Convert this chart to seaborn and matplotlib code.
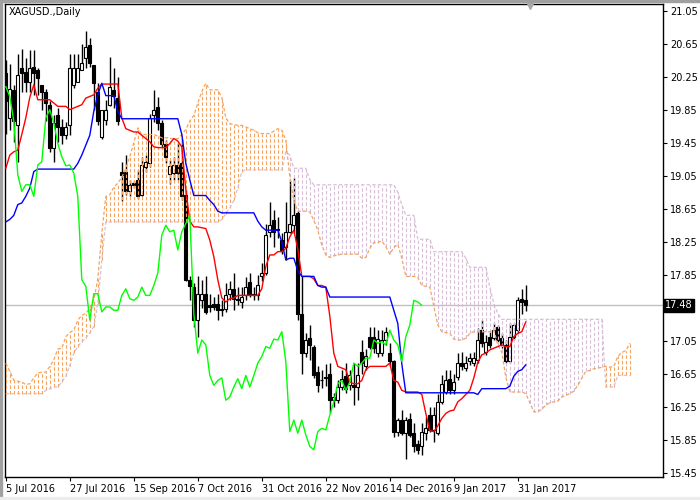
import numpy as np
import matplotlib
matplotlib.use("Agg")
import matplotlib.pyplot as plt
from matplotlib.patches import Rectangle
import seaborn as sns

sns.set_style("white")
plt.rcParams['font.family'] = ['DejaVu Sans']
plt.rcParams['lines.scale_dashes'] = False

# --- daily candles, XAGUSD (bar 0 = 5 Jul 2016) ---
opens = [20.30, 19.75, 20.09, 19.67, 20.36, 20.31, 20.19, 20.37, 20.33, 20.15,
         20.07, 19.91, 19.38, 19.79, 19.64, 19.54, 19.67, 20.15, 20.19, 20.33,
         20.47, 20.63, 20.39, 20.07, 19.52, 19.73, 19.91, 20.09, 19.99, 19.10,
         19.10, 18.86, 18.96, 19.00, 18.82, 19.16, 19.20, 19.78, 19.88, 19.69,
         19.44, 19.07, 19.08, 19.18, 19.20, 18.82, 17.79, 17.70, 17.30, 17.54,
         17.62, 17.48, 17.50, 17.50, 17.44, 17.44, 17.62, 17.68, 17.56, 17.52,
         17.60, 17.76, 17.62, 17.60, 17.83, 17.87, 18.37, 18.51, 18.41, 18.27,
         18.19, 18.37, 18.45, 18.60, 17.38, 16.90, 17.08, 16.98, 16.67, 16.58,
         16.61, 16.65, 16.33, 16.33, 16.49, 16.62, 16.51, 16.51, 16.49, 16.92,
         16.74, 17.10, 17.10, 16.90, 16.90, 17.06, 16.90, 16.80, 15.95, 16.09,
         15.93, 16.10, 15.93, 15.80, 15.77, 15.93, 16.15, 15.97, 15.93, 16.31,
         16.43, 16.59, 16.45, 16.61, 16.78, 16.72, 16.80, 16.78, 16.82, 17.18,
         16.92, 17.10, 17.08, 17.22, 17.08, 17.00, 16.80, 17.10, 17.18, 17.56,
         17.54]
highs = [20.45, 20.40, 20.15, 20.53, 20.59, 20.47, 20.57, 20.57, 20.36, 20.15,
         20.10, 19.95, 19.79, 19.87, 19.74, 19.70, 20.53, 20.53, 20.53, 20.65,
         20.80, 20.72, 20.39, 20.17, 19.85, 19.97, 20.49, 20.35, 20.25, 19.22,
         19.30, 19.00, 18.99, 19.12, 19.28, 19.30, 19.80, 20.09, 20.00, 19.72,
         19.48, 19.24, 19.28, 19.45, 19.50, 18.88, 17.83, 17.75, 17.83, 17.79,
         17.83, 17.62, 17.58, 17.62, 17.55, 17.75, 17.78, 17.87, 17.70, 17.70,
         17.82, 17.87, 17.70, 17.85, 17.99, 18.47, 18.73, 18.63, 18.55, 18.35,
         18.73, 19.00, 19.02, 18.62, 17.83, 17.15, 17.24, 17.00, 16.75, 16.70,
         16.77, 16.78, 16.42, 16.58, 16.70, 16.78, 16.70, 16.78, 16.78, 17.06,
         16.95, 17.22, 17.22, 17.18, 17.18, 17.22, 17.02, 16.82, 16.12, 16.21,
         16.13, 16.17, 16.05, 15.85, 16.05, 16.13, 16.25, 16.25, 16.41, 16.63,
         16.70, 16.70, 16.65, 16.90, 16.92, 16.86, 16.90, 16.92, 17.20, 17.30,
         17.12, 17.16, 17.26, 17.24, 17.14, 17.06, 17.26, 17.26, 17.58, 17.68,
         17.72]
lows = [19.55, 19.60, 19.46, 19.22, 20.07, 20.07, 20.07, 20.03, 20.03, 19.85,
        19.71, 19.34, 19.22, 19.46, 19.44, 19.50, 19.54, 20.11, 20.19, 20.33,
        20.35, 20.37, 19.85, 19.67, 19.50, 19.67, 19.89, 19.87, 19.67, 18.74,
        18.82, 18.80, 18.90, 18.77, 18.80, 19.10, 19.15, 19.70, 19.60, 19.40,
        19.20, 18.95, 19.00, 19.00, 18.76, 17.77, 17.54, 17.22, 17.10, 17.45,
        17.38, 17.40, 17.42, 17.30, 17.35, 17.40, 17.55, 17.42, 17.48, 17.45,
        17.55, 17.58, 17.55, 17.55, 17.78, 17.85, 18.31, 18.19, 18.30, 18.10,
        18.03, 18.35, 18.35, 17.30, 16.65, 16.85, 16.82, 16.60, 16.43, 16.48,
        16.50, 16.17, 16.25, 16.30, 16.45, 16.42, 16.45, 16.27, 16.33, 16.65,
        16.70, 16.95, 16.90, 16.85, 16.86, 17.00, 16.75, 15.89, 15.90, 15.91,
        15.62, 15.88, 15.70, 15.68, 15.67, 15.85, 15.95, 15.83, 15.91, 16.29,
        16.41, 16.40, 16.40, 16.57, 16.70, 16.68, 16.76, 16.74, 16.78, 16.98,
        16.88, 16.96, 17.06, 17.04, 16.96, 16.78, 16.78, 17.06, 17.14, 17.38,
        17.41]
closes = [19.95, 20.10, 19.71, 20.27, 20.29, 20.19, 20.36, 20.29, 20.23, 20.07,
          19.93, 19.38, 19.69, 19.64, 19.54, 19.64, 20.35, 20.35, 20.35, 20.41,
          20.61, 20.41, 20.17, 19.71, 19.85, 19.85, 20.13, 20.01, 19.71, 19.06,
          18.86, 18.94, 18.94, 18.80, 19.18, 19.22, 19.75, 19.85, 19.69, 19.44,
          19.28, 19.17, 19.18, 19.08, 18.80, 17.79, 17.71, 17.30, 17.62, 17.62,
          17.40, 17.46, 17.46, 17.42, 17.42, 17.60, 17.68, 17.56, 17.54, 17.58,
          17.70, 17.60, 17.60, 17.72, 17.87, 18.33, 18.45, 18.37, 18.39, 18.15,
          18.37, 18.47, 18.57, 17.38, 16.90, 17.06, 17.00, 16.63, 16.51, 16.57,
          16.60, 16.33, 16.37, 16.49, 16.59, 16.47, 16.63, 16.49, 16.63, 16.78,
          16.86, 16.98, 16.96, 17.07, 17.06, 17.16, 16.80, 15.95, 16.09, 15.93,
          16.09, 15.91, 15.77, 15.73, 15.95, 15.99, 15.97, 16.15, 16.31, 16.53,
          16.57, 16.45, 16.55, 16.78, 16.74, 16.78, 16.84, 16.84, 17.06, 17.02,
          17.04, 17.00, 17.18, 17.06, 17.00, 16.80, 17.10, 17.24, 17.54, 17.52,
          17.48]

# --- Ichimoku lines ---
tenkan = [19.14, 19.30, 19.34, 19.36, 19.55, 19.75, 20.00, 20.15, 19.97, 19.97,
          19.97, 19.97, 19.93, 19.89, 19.89, 19.89, 19.85, 19.87, 19.89, 19.91,
          19.99, 20.01, 20.03, 20.11, 20.16, 20.16, 20.16, 20.16, 20.16, 19.75,
          19.62, 19.60, 19.58, 19.58, 19.54, 19.50, 19.46, 19.40, 19.39, 19.39,
          19.39, 19.44, 19.50, 19.47, 19.40, 18.88, 18.50, 18.43, 18.43, 18.42,
          18.41, 18.27, 18.07, 17.79, 17.57, 17.52, 17.56, 17.57, 17.60, 17.60,
          17.60, 17.60, 17.60, 17.60, 17.68, 17.95, 18.09, 18.09, 18.13, 18.13,
          18.17, 18.31, 18.39, 18.16, 17.83, 17.83, 17.83, 17.80, 17.72, 17.72,
          17.70, 17.35, 16.90, 16.74, 16.72, 16.70, 16.55, 16.53, 16.53, 16.57,
          16.70, 16.74, 16.74, 16.74, 16.74, 16.74, 16.78, 16.57, 16.55, 16.45,
          16.43, 16.43, 16.43, 16.43, 16.40, 16.17, 15.96, 15.95, 16.02, 16.11,
          16.17, 16.20, 16.21, 16.31, 16.35, 16.40, 16.45, 16.60, 16.79, 16.88,
          16.90, 16.94, 16.96, 16.98, 17.00, 16.98, 16.98, 17.10, 17.14, 17.16,
          17.28]
kijun = [18.49, 18.52, 18.57, 18.70, 18.72, 18.80, 18.90, 19.10, 19.13, 19.13,
         19.13, 19.13, 19.13, 19.13, 19.13, 19.13, 19.13, 19.13, 19.20, 19.30,
         19.42, 19.54, 19.83, 20.03, 20.17, 20.02, 20.02, 20.02, 19.83, 19.74,
         19.74, 19.74, 19.74, 19.74, 19.74, 19.74, 19.74, 19.74, 19.74, 19.74,
         19.74, 19.74, 19.74, 19.74, 19.55, 19.20, 19.00, 18.81, 18.81, 18.81,
         18.81, 18.75, 18.70, 18.62, 18.60, 18.60, 18.60, 18.60, 18.60, 18.60,
         18.60, 18.60, 18.60, 18.50, 18.43, 18.39, 18.39, 18.39, 18.39, 18.25,
         18.03, 18.05, 18.05, 17.90, 17.83, 17.83, 17.83, 17.83, 17.72, 17.70,
         17.70, 17.58, 17.58, 17.58, 17.58, 17.58, 17.58, 17.58, 17.58, 17.58,
         17.58, 17.58, 17.58, 17.58, 17.58, 17.58, 17.58, 17.42, 17.26, 16.77,
         16.42, 16.42, 16.42, 16.42, 16.42, 16.42, 16.42, 16.42, 16.42, 16.42,
         16.42, 16.42, 16.42, 16.42, 16.42, 16.42, 16.42, 16.42, 16.40, 16.47,
         16.47, 16.47, 16.47, 16.47, 16.47, 16.47, 16.50, 16.62, 16.68, 16.70,
         16.76]
senkou_a = [16.78, 16.68, 16.57, 16.56, 16.55, 16.52, 16.53, 16.60, 16.66, 16.67,
            16.67, 16.74, 16.82, 16.95, 16.96, 17.10, 17.15, 17.18, 17.30, 17.36,
            17.38, 17.45, 17.54, 17.80, 18.35, 18.80, 18.82, 18.91, 18.96, 19.03,
            19.14, 19.28, 19.45, 19.63, 19.55, 19.55, 19.55, 19.55, 19.53, 19.51,
            19.51, 19.51, 19.49, 19.50, 19.55, 19.61, 19.71, 19.78, 19.93, 20.07,
            20.17, 20.09, 20.09, 20.09, 20.00, 19.75, 19.68, 19.67, 19.66, 19.66,
            19.64, 19.62, 19.60, 19.57, 19.56, 19.56, 19.56, 19.59, 19.62, 19.60,
            19.48, 19.04, 18.75, 18.62, 18.62, 18.62, 18.61, 18.51, 18.39, 18.21,
            18.09, 18.06, 18.08, 18.09, 18.10, 18.10, 18.10, 18.10, 18.10, 18.05,
            18.06, 18.17, 18.24, 18.24, 18.26, 18.19, 18.10, 18.18, 18.22, 18.05,
            17.83, 17.83, 17.83, 17.82, 17.72, 17.71, 17.70, 17.47, 17.24, 17.16,
            17.15, 17.14, 17.07, 17.06, 17.06, 17.08, 17.14, 17.16, 17.16, 17.16,
            17.16, 17.16, 17.18, 17.00, 16.91, 16.61, 16.43, 16.43, 16.43, 16.43,
            16.41, 16.30, 16.19, 16.19, 16.22, 16.27, 16.30, 16.31, 16.32, 16.37,
            16.39, 16.41, 16.44, 16.51, 16.60, 16.68, 16.69, 16.71, 16.72, 16.73,
            16.74, 16.73, 16.74, 16.86, 16.91, 16.93, 17.02]
senkou_b = [16.41, 16.41, 16.41, 16.41, 16.41, 16.41, 16.41, 16.41, 16.41, 16.41,
            16.45, 16.47, 16.49, 16.49, 16.55, 16.62, 16.75, 16.90, 16.98, 17.04,
            17.08, 17.15, 17.22, 17.50, 18.03, 18.49, 18.49, 18.49, 18.49, 18.49,
            18.49, 18.49, 18.49, 18.49, 18.49, 18.49, 18.49, 18.49, 18.49, 18.49,
            18.49, 18.49, 18.49, 18.49, 18.49, 18.49, 18.49, 18.49, 18.49, 18.49,
            18.49, 18.49, 18.49, 18.49, 18.52, 18.59, 18.66, 18.75, 18.90, 19.10,
            19.12, 19.12, 19.12, 19.12, 19.12, 19.12, 19.12, 19.12, 19.12, 19.12,
            19.34, 19.30, 19.14, 19.14, 19.14, 19.14, 19.00, 18.94, 18.94, 18.94,
            18.94, 18.94, 18.94, 18.94, 18.94, 18.94, 18.94, 18.94, 18.94, 18.94,
            18.94, 18.94, 18.94, 18.94, 18.94, 18.94, 18.94, 18.94, 18.85, 18.70,
            18.57, 18.57, 18.57, 18.28, 18.28, 18.28, 18.28, 18.13, 18.13, 18.13,
            18.13, 18.13, 18.13, 18.13, 18.13, 18.05, 17.94, 17.94, 17.94, 17.94,
            17.94, 17.70, 17.50, 17.38, 17.31, 17.31, 17.31, 17.31, 17.31, 17.31,
            17.31, 17.31, 17.31, 17.31, 17.31, 17.31, 17.31, 17.31, 17.31, 17.31,
            17.31, 17.31, 17.31, 17.31, 17.31, 17.31, 17.31, 17.31, 17.31, 17.31,
            16.49, 16.49, 16.49, 16.63, 16.63, 16.63, 16.63]

price_now = 17.48
date_labels = ["5 Jul 2016", "27 Jul 2016", "15 Sep 2016", "7 Oct 2016",
               "31 Oct 2016", "22 Nov 2016", "14 Dec 2016", "9 Jan 2017",
               "31 Jan 2017"]
date_bars = [0, 16, 32, 48, 64, 80, 96, 112, 128]
price_ticks = [21.05, 20.65, 20.25, 19.85, 19.45, 19.05, 18.65, 18.25, 17.85,
               17.05, 16.65, 16.25, 15.85, 15.45]

o = np.array(opens)
h = np.array(highs)
l = np.array(lows)
c = np.array(closes)
bars = np.arange(len(c))
a = np.array(senkou_a)
b = np.array(senkou_b)
cloud_x = np.arange(len(a))
shift = 26

fig = plt.figure(figsize=(7, 5), dpi=100)
ax = fig.add_axes([5 / 700, 23 / 500, 658 / 700, 473 / 500])

# window frame bits
fig.patches.append(Rectangle((0, 498 / 500), 1, 2 / 500, transform=fig.transFigure,
                             color='#a0a0a0', zorder=0))
fig.patches.append(Rectangle((0, 0), 2 / 700, 1, transform=fig.transFigure,
                             color='#a0a0a0', zorder=0))
fig.patches.append(Rectangle((0, 0), 1, 3 / 500, transform=fig.transFigure,
                             color='#ececec', zorder=0))

# current price line
ax.axhline(price_now, color='#c0c0c0', lw=1, zorder=1)

# candles
up = c >= o
ax.vlines(bars, l, h, color='black', lw=1, zorder=3)
body_up = np.maximum(c - o, 0.004)
body_dn = np.maximum(o - c, 0.004)
ax.bar(bars[up], body_up[up], bottom=o[up], width=0.7, color='white',
       edgecolor='black', lw=0.8, zorder=4)
ax.bar(bars[~up], body_dn[~up], bottom=c[~up], width=0.7, color='black',
       edgecolor='black', lw=0.8, zorder=4)

# kumo (dotted histogram between the spans)
dots = (0, (2.5, 1.5))
cols = np.where(a >= b, '#f4a460', '#d8bfd8')
ax.vlines(cloud_x, np.minimum(a, b), np.maximum(a, b), colors=cols,
          linestyles=[dots], lw=0.8, zorder=5)
sns.lineplot(x=cloud_x, y=b, color='#d8bfd8', lw=0.9, linestyle=dots, ax=ax, zorder=6)
sns.lineplot(x=cloud_x, y=a, color='#f4a460', lw=0.9, linestyle=dots, ax=ax, zorder=6)

# tenkan / kijun / chikou
sns.lineplot(x=bars, y=tenkan, color='#ff0000', lw=1, ax=ax, zorder=7)
sns.lineplot(x=bars, y=kijun, color='#0000ff', lw=1, ax=ax, zorder=7)
sns.lineplot(x=bars[:-shift], y=c[shift:], color='#00ff00', lw=1, ax=ax, zorder=7)

ax.set_xlim(-0.2, 164.3)
ax.set_ylim(15.40, 21.13)

ax.yaxis.tick_right()
ax.set_yticks(price_ticks)
ax.set_yticklabels([f"{v:.2f}" for v in price_ticks])
ax.set_xticks(date_bars)
ax.set_xticklabels(date_labels, ha='left')
ax.tick_params(axis='both', direction='out', length=3, width=0.8, labelsize=7,
               colors='black', pad=2)
ax.tick_params(axis='y', right=True, left=False)
ax.tick_params(axis='x', bottom=True)
ax.set_xlabel('')
ax.set_ylabel('')
for sp in ax.spines.values():
    sp.set_color('black')
    sp.set_linewidth(1)
    sp.set_visible(True)

ax.text(1.003, price_now, f"{price_now:.2f}", transform=ax.get_yaxis_transform(),
        ha='left', va='center', fontsize=7, color='white',
        bbox=dict(boxstyle='square,pad=0.15', fc='black', ec='black'))

ax.text(0.005, 0.993, "XAGUSD.,Daily", transform=ax.transAxes, ha='left', va='top',
        fontsize=7, color='black')

# chart shift marker
ax.plot([bars[-1] + 1], [0.995], marker='v', ms=5, color='#a9a9a9',
        transform=ax.get_xaxis_transform(), clip_on=False, zorder=8)

fig.savefig("out.png", dpi=100)
